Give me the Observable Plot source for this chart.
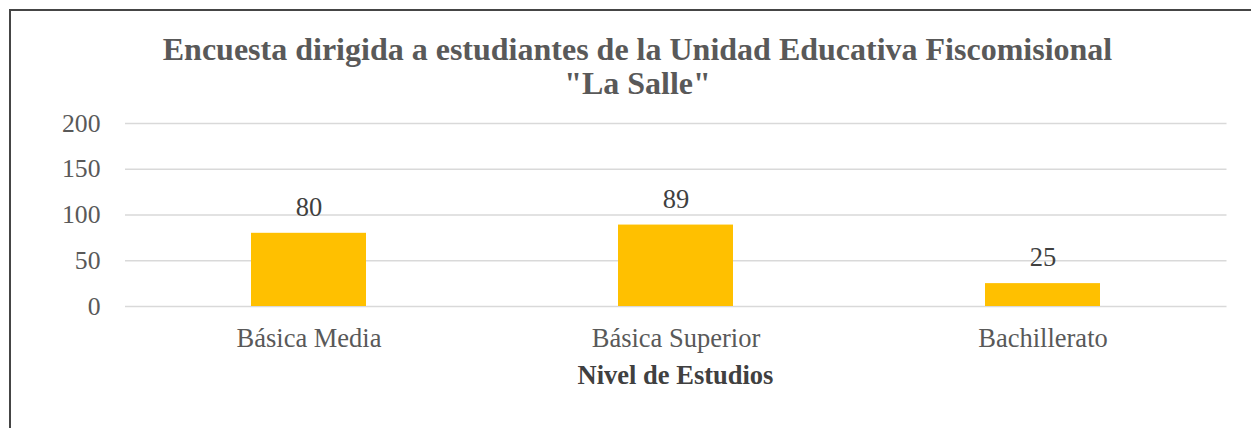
<!DOCTYPE html>
<html>
<head>
<meta charset="utf-8">
<script src="https://cdn.jsdelivr.net/npm/d3@7"></script>
<script src="https://cdn.jsdelivr.net/npm/@observablehq/plot@0.6"></script>
<style>
  html, body { margin: 0; padding: 0; background: #fff; overflow: hidden; width: 1251px; height: 428px; }
  #frame { position: absolute; left: 9px; top: 9px; width: 1300px; height: 480px; border: 2px solid #454545; box-sizing: border-box; }
  #title { position: absolute; left: 137.5px; top: 32px; width: 1000px; text-align: center;
    font-family: "Liberation Serif", "Times New Roman", serif; font-weight: bold; font-size: 32px; line-height: 34px; color: #595959; }
  #chart { position: absolute; left: 0; top: 100px; }
  #xlabel { position: absolute; left: 375.5px; top: 362px; width: 600px; text-align: center;
    font-family: "Liberation Serif", "Times New Roman", serif; font-weight: bold; font-size: 26.5px; line-height: 26px; color: #404040; }
</style>
</head>
<body>
<div id="frame"></div>
<div id="title">Encuesta dirigida a estudiantes de la Unidad Educativa Fiscomisional<br>"La Salle"</div>
<div id="chart"></div>
<div id="xlabel">Nivel de Estudios</div>
<script>
const categories = ["Básica Media", "Básica Superior", "Bachillerato"];
const values = [80, 89, 25];
const yTicks = [0, 50, 100, 150, 200];

const data = categories.map((c, i) => ({cat: c, value: values[i]}));

const chart = Plot.plot({
  width: 1251,
  height: 300,
  marginTop: 23,
  marginBottom: 94,
  marginLeft: 125,
  marginRight: 24.5,
  style: {fontFamily: "'Liberation Serif', 'Times New Roman', serif", fontSize: "26px", color: "#595959", background: "transparent", overflow: "visible"},
  x: {domain: categories, paddingInner: 0.687, paddingOuter: 0.3435, label: null},
  y: {domain: [0, 200], label: null},
  marks: [
    Plot.gridY(yTicks, {stroke: "#d9d9d9", strokeOpacity: 1, strokeWidth: 1.3}),
    Plot.barY(data, {x: "cat", y: "value", fill: "#FFC000"}),
    Plot.text(data, {x: "cat", y: "value", text: d => String(d.value), dy: -26, fill: "#404040", fontSize: 26.5}),
    Plot.axisY(yTicks, {tickSize: 0, tickPadding: 25, fontSize: 25.7, fill: "#595959", label: null}),
    Plot.axisX({tickSize: 0, tickPadding: 21.5, fontSize: 26.5, fill: "#595959", label: null})
  ]
});
document.getElementById("chart").appendChild(chart);
</script>
</body>
</html>
